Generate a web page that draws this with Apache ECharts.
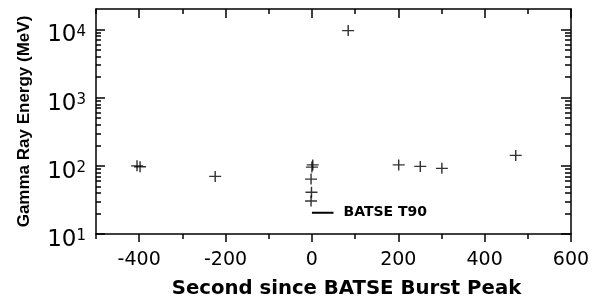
<!DOCTYPE html>
<html><head><meta charset="utf-8">
<script src="https://cdn.jsdelivr.net/npm/echarts@6/dist/echarts.min.js"></script>
<style>html,body{margin:0;padding:0;background:#fff}#c{width:597px;height:296px}</style>
</head><body><div id="c"></div>
<script>
// ---- data ----
const xMajorTicks = [-400, -200, 0, 200, 400, 600];
const xMinorTicks = [-500, -300, -100, 100, 300, 500];
const yMajorTicks = [10, 100, 1000, 10000];
const yMinorTicks = [20,30,40,50,60,70,80,90,200,300,400,500,600,700,800,900,2000,3000,4000,5000,6000,7000,8000,9000];
const eventTimes    = [-405, -398, -224, 2, 0, -2, -1, -2, 84, 201, 251, 301, 472];
const eventEnergies = [100, 97, 70, 103, 96, 64, 41, 30.5, 9660, 103, 98, 92, 142];
const t90Times = [0, 50];
const t90Energy = 20.5;
const t90Label = 'BATSE T90';
const xTitle = 'Second since BATSE Burst Peak';
const yTitle = 'Gamma Ray Energy (MeV)';

const black = '#000';
const lineSty = { color: black, width: 1.5 };
const xBase = { type: 'value', min: -500, max: 600, splitLine: { show: false } };
const yBase = { type: 'log', logBase: 10, min: 10, max: 20000, splitLine: { show: false }, minorTick: { show: false } };

const chart = echarts.init(document.getElementById('c'), null, { renderer: 'canvas' });
chart.setOption({
  animation: false,
  backgroundColor: '#fff',
  grid: { left: 96, right: 26, top: 9, bottom: 62, containLabel: false, outerBoundsMode: 'none' },
  xAxis: [
    Object.assign({}, xBase, {
      position: 'bottom',
      axisLine: { show: true, onZero: false, lineStyle: lineSty },
      axisTick: { show: true, customValues: xMajorTicks, length: 8, inside: false, lineStyle: lineSty },
      axisLabel: { show: true, customValues: xMajorTicks, margin: 17, fontSize: 19, fontFamily: 'DejaVu Sans', color: black },
      name: xTitle, nameLocation: 'middle', nameGap: 45, nameMoveOverlap: false,
      nameTextStyle: { fontSize: 19.7, fontWeight: 'bold', fontFamily: 'DejaVu Sans', color: black, padding: [0, 0, 0, 26] }
    }),
    Object.assign({}, xBase, {
      position: 'bottom',
      axisLine: { show: false, onZero: false },
      axisTick: { show: true, customValues: xMinorTicks, length: 5, inside: false, lineStyle: lineSty },
      axisLabel: { show: false }
    }),
    Object.assign({}, xBase, {
      position: 'top',
      axisLine: { show: true, onZero: false, lineStyle: lineSty },
      axisTick: { show: true, customValues: xMajorTicks, length: 9, inside: true, lineStyle: lineSty },
      axisLabel: { show: false }
    }),
    Object.assign({}, xBase, {
      position: 'top',
      axisLine: { show: false, onZero: false },
      axisTick: { show: true, customValues: xMinorTicks, length: 5, inside: true, lineStyle: lineSty },
      axisLabel: { show: false }
    })
  ],
  yAxis: [
    Object.assign({}, yBase, {
      position: 'left',
      axisLine: { show: true, onZero: false, lineStyle: lineSty },
      axisTick: { show: true, customValues: yMajorTicks, length: 9, inside: true, lineStyle: lineSty },
      axisLabel: {
        show: true, customValues: yMajorTicks, margin: 10, color: black,
        formatter: function (v) { return '{b|10}{s|' + Math.round(Math.log10(v)) + '}'; },
        padding: [12, 0, 0, 0],
        rich: {
          b: { fontSize: 23, fontFamily: 'DejaVu Sans', color: black, lineHeight: 22 },
          s: { fontSize: 15, fontFamily: 'DejaVu Sans', color: black, verticalAlign: 'top', lineHeight: 15 }
        }
      },
      name: yTitle, nameLocation: 'middle', nameRotate: 90, nameGap: 63, nameMoveOverlap: false,
      nameTextStyle: { fontSize: 17, fontWeight: 'bold', fontFamily: 'Liberation Sans', color: black }
    }),
    Object.assign({}, yBase, {
      position: 'left',
      axisLine: { show: false, onZero: false },
      axisTick: { show: true, customValues: yMinorTicks, length: 5, inside: true, lineStyle: lineSty },
      axisLabel: { show: false }
    }),
    Object.assign({}, yBase, {
      position: 'right',
      axisLine: { show: true, onZero: false, lineStyle: lineSty },
      axisTick: { show: true, customValues: yMajorTicks, length: 10, inside: true, lineStyle: lineSty },
      axisLabel: { show: false }
    }),
    Object.assign({}, yBase, {
      position: 'right',
      axisLine: { show: false, onZero: false },
      axisTick: { show: true, customValues: yMinorTicks, length: 6, inside: true, lineStyle: lineSty },
      axisLabel: { show: false }
    })
  ],
  series: [
    {
      type: 'scatter', xAxisIndex: 0, yAxisIndex: 0,
      symbol: 'path://M4.4,0 H5.6 V4.4 H10 V5.6 H5.6 V10 H4.4 V5.6 H0 V4.4 H4.4 Z',
      symbolSize: [12, 11],
      itemStyle: { color: black },
      data: eventTimes.map((t, i) => [t, eventEnergies[i]])
    },
    {
      type: 'line', xAxisIndex: 0, yAxisIndex: 0,
      symbol: 'none',
      lineStyle: { color: black, width: 2 },
      data: t90Times.map(t => [t, t90Energy]),
      endLabel: { show: true, formatter: t90Label, distance: 10, fontSize: 14, fontWeight: 'bold', fontFamily: 'DejaVu Sans', color: black }
    }
  ]
});
</script>
</body></html>
